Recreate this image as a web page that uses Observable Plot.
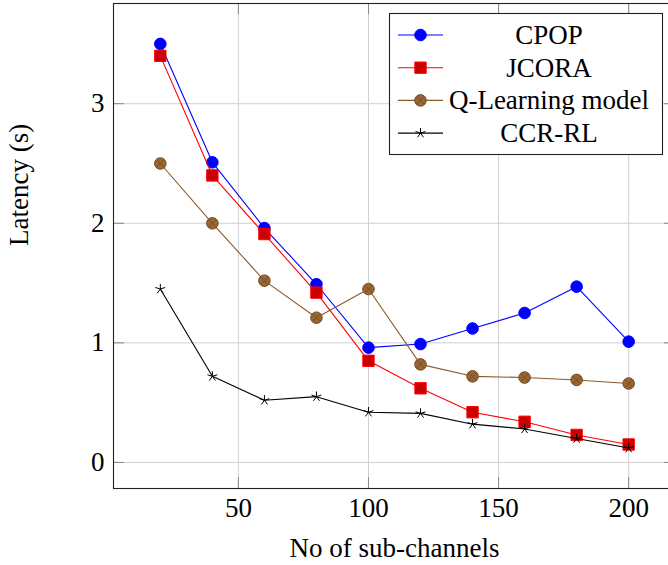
<!DOCTYPE html>
<html><head><meta charset="utf-8">
<script src="https://cdn.jsdelivr.net/npm/d3@7"></script>
<script src="https://cdn.jsdelivr.net/npm/@observablehq/plot@0.6"></script>
<style>
html,body{margin:0;padding:0;background:#fff;overflow:hidden;}
#wrap{position:relative;width:668px;height:565px;overflow:hidden;}
#legend{position:absolute;left:0;top:0;pointer-events:none;}
</style></head><body><div id="wrap"></div>
<script>
const subChannels = [20, 40, 60, 80, 100, 120, 140, 160, 180, 200];
const cpop = [3.5, 2.51, 1.96, 1.49, 0.96, 0.99, 1.12, 1.25, 1.47, 1.01];
const jcora = [3.4, 2.4, 1.91, 1.42, 0.85, 0.62, 0.42, 0.34, 0.23, 0.15];
const qlearning = [2.5, 2.0, 1.52, 1.21, 1.45, 0.82, 0.72, 0.71, 0.69, 0.66];
const ccrrl = [1.45, 0.72, 0.52, 0.55, 0.42, 0.41, 0.32, 0.28, 0.20, 0.12];
const seriesNames = ["CPOP", "JCORA", "Q-Learning model", "CCR-RL"];
const xTicks = [50, 100, 150, 200];
const yTicks = [0, 1, 2, 3];
const xLabel = "No of sub-channels";
const yLabel = "Latency (s)";

const star5 = {draw(ctx, size) {
  const r = Math.sqrt(size / Math.PI);
  for (let k = 0; k < 5; k++) {
    const a = -Math.PI / 2 + k * 2 * Math.PI / 5;
    ctx.moveTo(0, 0); ctx.lineTo(r * Math.cos(a), r * Math.sin(a));
  }
}};
const otimes = {draw(ctx, size) {
  const r = Math.sqrt(size / Math.PI) * 0.707;
  ctx.moveTo(-r, -r); ctx.lineTo(r, r); ctx.moveTo(-r, r); ctx.lineTo(r, -r);
}};

const styles = [
  {line: "#0000ff", width: 1.1, marks: [{symbol: "circle", r: 5.8, fill: "#0000ff", stroke: "#0000ff"}]},
  {line: "#ff0000", width: 1.1, marks: [{symbol: "square", r: 6.4, fill: "#cc0000", stroke: "#ff0000"}]},
  {line: "#8b5a2b", width: 1.1, marks: [{symbol: "circle", r: 5.8, fill: "#996633", stroke: "#734d26"}, {symbol: otimes, r: 5.8, fill: "none", stroke: "#734d26"}]},
  {line: "#000000", width: 1.1, marks: [{symbol: star5, r: 5.2, fill: "none", stroke: "#000000"}]}
];
const allValues = [cpop, jcora, qlearning, ccrrl];
const series = allValues.map((vals, i) => subChannels.map((x, j) => ({x, y: vals[j], name: seriesNames[i]})));

const W = 668, H = 565, mL = 113, mT = 3, mB = 77, mR = -7;
const plotW = W - mL - mR, plotH = H - mT - mB, tick = 11;
const font = "'Liberation Serif', 'Times New Roman', serif";

const seriesMarks = [];
series.forEach((data, i) => {
  const s = styles[i];
  seriesMarks.push(Plot.line(data, {x: "x", y: "y", stroke: s.line, strokeWidth: s.width}));
  s.marks.forEach(m => seriesMarks.push(Plot.dot(data, {x: "x", y: "y", symbol: () => m.symbol, r: m.r, fill: m.fill, stroke: m.stroke, strokeWidth: 1})));
});

const chart = Plot.plot({
  width: W, height: H,
  marginLeft: mL, marginRight: mR, marginTop: mT, marginBottom: mB,
  style: {fontFamily: font, fontSize: "27px", background: "white", overflow: "hidden", color: "black"},
  x: {domain: [2, 218]},
  y: {domain: [-0.218, 3.838]},
  symbol: {type: "identity"},
  marks: [
    Plot.gridX(xTicks, {stroke: "#d0d0d0", strokeOpacity: 1, strokeWidth: 1}),
    Plot.gridY(yTicks, {stroke: "#d0d0d0", strokeOpacity: 1, strokeWidth: 1}),
    Plot.ruleX(xTicks, {stroke: "#888", insetTop: plotH - tick}),
    Plot.ruleX(xTicks, {stroke: "#888", insetBottom: plotH - tick}),
    Plot.ruleY(yTicks, {stroke: "#888", insetRight: plotW - tick}),
    Plot.ruleY(yTicks, {stroke: "#888", insetLeft: plotW - tick}),
    Plot.axisX(xTicks, {tickSize: 0, tickPadding: 9, label: null, tickFormat: d3.format("d"), fontSize: 27, fontFamily: font}),
    Plot.axisY(yTicks, {tickSize: 0, tickPadding: 9, label: null, tickFormat: d3.format("d"), fontSize: 27, fontFamily: font}),
    ...seriesMarks,
    Plot.frame({stroke: "#222", strokeWidth: 1.1}),
    Plot.text([xLabel], {text: d => d, frameAnchor: "bottom", lineAnchor: "bottom", dy: 68, fontSize: 27, fontFamily: font, fill: "black"}),
    Plot.text([yLabel], {text: d => d, frameAnchor: "left", rotate: -90, lineAnchor: "middle", dx: -94, fontSize: 27, fontFamily: font, fill: "black"})
  ]
});
const wrap = document.getElementById("wrap");
wrap.appendChild(chart);

// Legend overlay
const lg = d3.select(wrap).append("svg").attr("id", "legend").attr("width", W).attr("height", H);
const box = {x: 389.5, y: 13.5, w: 273, h: 141};
lg.append("rect").attr("x", box.x).attr("y", box.y).attr("width", box.w).attr("height", box.h)
  .attr("fill", "white").attr("stroke", "#222").attr("stroke-width", 1.1);
seriesNames.forEach((name, i) => {
  const cy = 35 + i * 32.7;
  const s = styles[i];
  lg.append("line").attr("x1", 398).attr("x2", 443).attr("y1", cy).attr("y2", cy)
    .attr("stroke", s.line).attr("stroke-width", s.width);
  s.marks.forEach(m => {
    const sym = typeof m.symbol === "string" ? (m.symbol === "circle" ? d3.symbolCircle : d3.symbolSquare) : m.symbol;
    lg.append("path").attr("transform", `translate(420.5,${cy})`)
      .attr("d", d3.symbol(sym, Math.PI * m.r * m.r)())
      .attr("fill", m.fill).attr("stroke", m.stroke).attr("stroke-width", 1);
  });
  lg.append("text").attr("x", 549).attr("y", cy + 9).attr("text-anchor", "middle")
    .attr("font-family", font).attr("font-size", 27).attr("fill", "black").text(name);
});
</script></body></html>
